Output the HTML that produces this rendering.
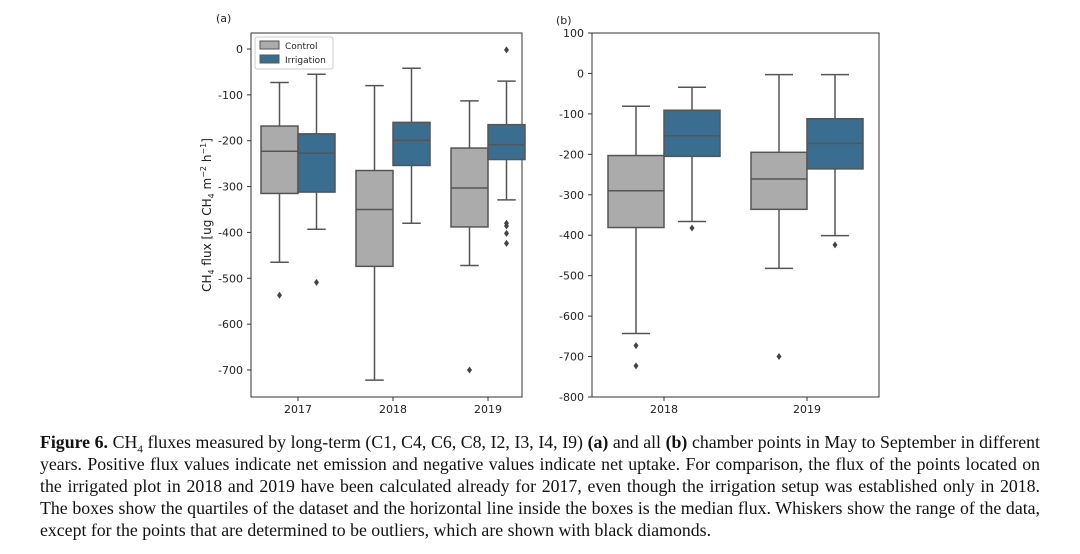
<!DOCTYPE html>
<html><head><meta charset="utf-8"><style>
body{margin:0;background:#fff;width:1080px;height:554px;overflow:hidden;position:relative}
svg text{font-family:"DejaVu Sans","Liberation Sans",sans-serif;fill:#222}
#cap{position:absolute;left:40px;top:431px;width:1000px;font-family:"Liberation Serif",serif;font-size:17.8px;line-height:22px;color:#111}
#cap div{text-align:justify;text-align-last:justify;white-space:nowrap;height:22px}
#cap div.last{text-align-last:left}
#cap sub{font-size:11px;line-height:0}
</style></head><body>
<svg id="chart" width="1080" height="430" style="position:absolute;left:0;top:0"></svg>
<div id="cap">
<div><b>Figure 6.</b> CH<sub>4</sub> fluxes measured by long-term (C1, C4, C6, C8, I2, I3, I4, I9) <b>(a)</b> and all <b>(b)</b> chamber points in May to September in different</div>
<div>years. Positive flux values indicate net emission and negative values indicate net uptake. For comparison, the flux of the points located on</div>
<div>the irrigated plot in 2018 and 2019 have been calculated already for 2017, even though the irrigation setup was established only in 2018.</div>
<div>The boxes show the quartiles of the dataset and the horizontal line inside the boxes is the median flux. Whiskers show the range of the data,</div>
<div class="last">except for the points that are determined to be outliers, which are shown with black diamonds.</div>
</div>
<script>
const catsA=["2017","2018","2019"];
const ctrlA=[[-73,-168,-223,-315,-465],[-80,-265,-350,-474,-722],[-113,-216,-303,-388,-472]];
const irrA=[[-55,-185,-227,-312,-393],[-42,-160,-199,-254,-380],[-70,-165,-209,-241,-329]];
const ctrlOutA=[[-537],[],[-700]];
const irrOutA=[[-509],[],[-2,-380,-386,-402,-424]];
const ticksA=[0,-100,-200,-300,-400,-500,-600,-700];
const catsB=["2018","2019"];
const ctrlB=[[-81,-203,-290,-381,-643],[-3,-195,-261,-336,-482]];
const irrB=[[-34,-91,-154,-205,-366],[-3,-112,-173,-236,-401]];
const ctrlOutB=[[-673,-723],[-700]];
const irrOutB=[[-382],[-424]];
const ticksB=[100,0,-100,-200,-300,-400,-500,-600,-700,-800];
const NS="http://www.w3.org/2000/svg";
const svg=document.getElementById('chart');
function mk(t,a,p){const e=document.createElementNS(NS,t);for(const k in a)e.setAttribute(k,a[k]);(p||svg).appendChild(e);return e;}
function panel(o){
  const g=mk('g',{});
  
  
  const y=v=>o.y0+(v-o.v0)*(o.y1-o.y0)/(o.v1-o.v0);
  const x=i=>o.x0+o.first+i*o.step;
  const ax=mk('rect',{x:o.x0,y:o.top,width:o.x1-o.x0,height:o.bot-o.top,fill:'none',stroke:'#333','stroke-width':1},g);
  
  o.ticks.forEach(t=>{const yy=y(t);mk('line',{x1:o.x0-4,x2:o.x0,y1:yy,y2:yy,stroke:'#333'},g);
    const tx=mk('text',{x:o.x0-8,y:yy+4,'text-anchor':'end','font-size':11},g);tx.textContent=t;
    });
  o.cats.forEach((c,i)=>{const xx=x(i);mk('line',{x1:xx,x2:xx,y1:o.bot,y2:o.bot+4,stroke:'#333'},g);
    const tx=mk('text',{x:xx,y:o.bot+16,'text-anchor':'middle','font-size':11},g);tx.textContent=c;
    });
  function box(cx,d,outs,fill,nm){
    const bg=mk('g',{},g);
    const w=o.bw,l=cx-w/2,r=cx+w/2,cap=w/2;
    mk('line',{x1:cx,x2:cx,y1:y(d[0]),y2:y(d[1]),stroke:'#555','stroke-width':1.5},bg);
    mk('line',{x1:cx,x2:cx,y1:y(d[3]),y2:y(d[4]),stroke:'#555','stroke-width':1.5},bg);
    mk('line',{x1:cx-cap/2,x2:cx+cap/2,y1:y(d[0]),y2:y(d[0]),stroke:'#555','stroke-width':1.5},bg);
    mk('line',{x1:cx-cap/2,x2:cx+cap/2,y1:y(d[4]),y2:y(d[4]),stroke:'#555','stroke-width':1.5},bg);
    mk('rect',{x:l,y:y(d[1]),width:w,height:y(d[3])-y(d[1]),fill:fill,stroke:'#555','stroke-width':1.5},bg);
    mk('line',{x1:l,x2:r,y1:y(d[2]),y2:y(d[2]),stroke:'#555','stroke-width':1.5},bg);
    outs.forEach(v=>{const yy=y(v);mk('path',{d:`M${cx} ${yy-3.5}L${cx+2.5} ${yy}L${cx} ${yy+3.5}L${cx-2.5} ${yy}Z`,fill:'#444'},bg);});
  }
  o.cats.forEach((c,i)=>{box(x(i)-o.bw/2,o.ctrl[i],o.cOut[i],'#ababab','control-box-'+c);
    box(x(i)+o.bw/2,o.irr[i],o.iOut[i],'#3a6e91','irrigation-box-'+c);});
  const lb=mk('text',{x:o.lx,y:o.ly,'font-size':11},g);lb.textContent=o.label;
  
  return g;
}
panel({name:'panel-a',x0:251,x1:522,top:33,bot:397,y0:49,y1:370,v0:0,v1:-700,first:47,step:95,bw:37,
  cats:catsA,ctrl:ctrlA,irr:irrA,cOut:ctrlOutA,iOut:irrOutA,ticks:ticksA,label:'(a)',lx:216,ly:22});
panel({name:'panel-b',x0:592,x1:879,top:33,bot:397,y0:33,y1:397,v0:100,v1:-800,first:72,step:143,bw:56,
  cats:catsB,ctrl:ctrlB,irr:irrB,cOut:ctrlOutB,iOut:irrOutB,ticks:ticksB,label:'(b)',lx:556,ly:24});
const yt=mk('text',{transform:'translate(211,215) rotate(-90)','text-anchor':'middle','font-size':12});

yt.innerHTML='CH<tspan font-size="8" dy="3">4</tspan><tspan dy="-3"> flux [ug CH</tspan><tspan font-size="8" dy="3">4</tspan><tspan dy="-3"> m</tspan><tspan font-size="8" dy="-5">−2</tspan><tspan dy="5"> h</tspan><tspan font-size="8" dy="-5">−1</tspan><tspan dy="5">]</tspan>';
const lg=mk('g',{});
mk('rect',{x:255,y:37,width:78,height:32,fill:'#fff',stroke:'#ccc',rx:2},lg);
mk('rect',{x:260,y:41,width:19,height:8,fill:'#ababab',stroke:'#555'},lg);
mk('rect',{x:260,y:55,width:19,height:8,fill:'#3a6e91',stroke:'#555'},lg);
const l1=mk('text',{x:285,y:49,'font-size':9},lg);l1.textContent='Control';

const l2=mk('text',{x:285,y:63,'font-size':9},lg);l2.textContent='Irrigation';

</script>
</body></html>
